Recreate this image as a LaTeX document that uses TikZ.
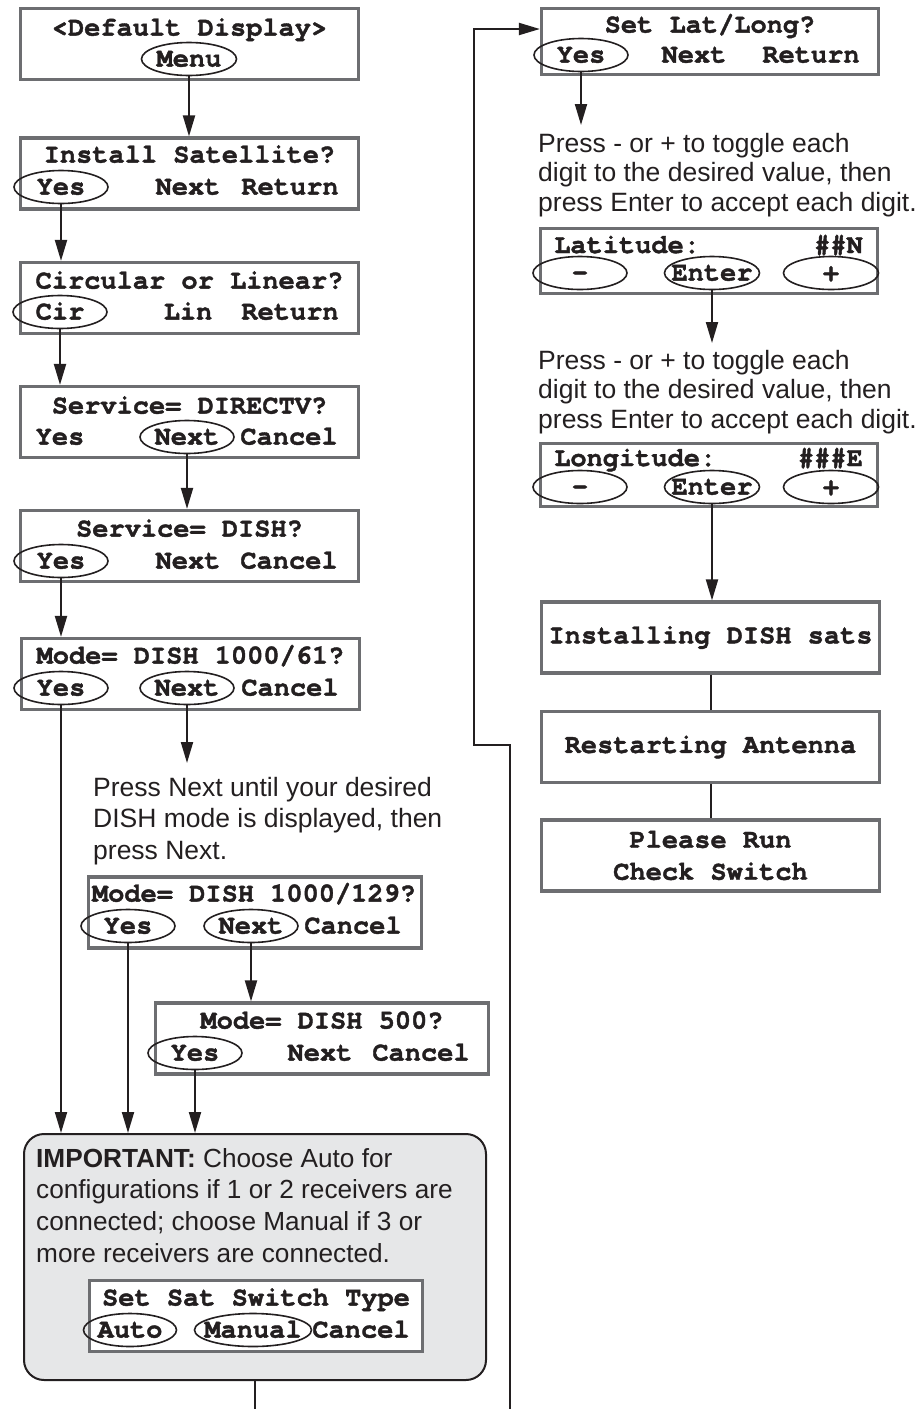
\documentclass[tikz,border=0pt]{standalone}
\usepackage{fontspec}
\setmainfont{Liberation Sans}
\setmonofont{texgyrecursor}[Extension=.otf,UprightFont=*-regular,BoldFont=*-bold,BoldFeatures={FakeBold=1.5}]
\usetikzlibrary{arrows.meta,shapes.geometric,calc}
\definecolor{lcdgray}{RGB}{109,110,113}
\definecolor{notegray}{RGB}{230,231,232}
\definecolor{ink}{RGB}{35,31,32}
\newcommand{\lcd}[1]{\makebox[0pt]{\raisebox{-.28em}[0pt][0pt]{#1}}}

\begin{document}
\begin{tikzpicture}[x=1pt,y=-1pt,ink,font=\fontsize{26.5}{29.5}\selectfont,
  lcdbox/.style={draw=lcdgray,line width=3.2pt,fill=white,minimum width=338pt,minimum height=71pt,inner sep=0pt,font=\fontsize{27}{32}\selectfont\ttfamily\bfseries},
  key/.style={inner sep=0pt,font=\fontsize{27}{32}\selectfont\ttfamily\bfseries},
  btn/.style={key,ellipse,draw=ink,line width=1.6pt,minimum width=94pt,minimum height=33pt},
  flow/.style={draw=ink,line width=2pt,-{Triangle[length=21pt,width=12pt]}},
  link/.style={draw=ink,line width=2pt},
  note/.style={anchor=north west,align=left,inner sep=0pt}]
  \useasboundingbox (0,0) rectangle (924,1409);

  % left column
  \node[lcdbox] (deflt) at (189.5,44) {};
  \node[key] (defltT) at (189.5,28) {\lcd{<Default Display>}};
  \node[btn,minimum width=95pt] (menu) at (189,59) {\lcd{Menu}};

  \node[lcdbox] (install) at (189.5,173.5) {};
  \node[key] (installT) at (189.5,155) {\lcd{Install Satellite?}};
  \node[btn] (installYes) at (61,187) {\lcd{Yes}};
  \node[key] (installNext) at (188,187) {\lcd{Next}};
  \node[key] (installRet) at (290,187) {\lcd{Return}};

  \node[lcdbox] (polar) at (189.5,298) {};
  \node[key] (polarT) at (189.5,281) {\lcd{Circular or Linear?}};
  \node[btn] (polarCir) at (60,312) {\lcd{Cir}};
  \node[key] (polarLin) at (188,312) {\lcd{Lin}};
  \node[key] (polarRet) at (290,312) {\lcd{Return}};

  \node[lcdbox] (tvsvc) at (189.5,422) {};
  \node[key] (tvsvcT) at (189.5,406) {\lcd{Service= DIRECTV?}};
  \node[key] (tvsvcYes) at (60,437) {\lcd{Yes}};
  \node[btn] (tvsvcNext) at (187,437) {\lcd{Next}};
  \node[key] (tvsvcCan) at (289,437) {\lcd{Cancel}};

  \node[lcdbox] (dish) at (189.5,546) {};
  \node[key] (dishT) at (189.5,529) {\lcd{Service= DISH?}};
  \node[btn] (dishYes) at (61,561) {\lcd{Yes}};
  \node[key] (dishNext) at (188,561) {\lcd{Next}};
  \node[key] (dishCan) at (289,561) {\lcd{Cancel}};

  \node[lcdbox] (m61) at (190.5,674) {};
  \node[key] (m61T) at (190.5,656) {\lcd{Mode= DISH 1000/61?}};
  \node[btn] (m61Yes) at (61,688) {\lcd{Yes}};
  \node[btn] (m61Next) at (187,688) {\lcd{Next}};
  \node[key] (m61Can) at (290,688) {\lcd{Cancel}};

  \node[note,font=\fontsize{26.5}{31.5}\selectfont] (modehint) at (93,777)
    {Press Next until your desired\\DISH mode is displayed, then\\press Next.};

  \node[lcdbox,minimum width=333pt] (m129) at (255,912.5) {};
  \node[key] (m129T) at (254,894) {\lcd{Mode= DISH 1000/129?}};
  \node[btn] (m129Yes) at (128,926) {\lcd{Yes}};
  \node[btn] (m129Next) at (251,926) {\lcd{Next}};
  \node[key] (m129Can) at (353,926) {\lcd{Cancel}};

  \node[lcdbox,minimum width=333pt] (m500) at (322,1038.5) {};
  \node[key] (m500T) at (322,1021) {\lcd{Mode= DISH 500?}};
  \node[btn] (m500Yes) at (195,1053) {\lcd{Yes}};
  \node[key] (m500Next) at (320,1053) {\lcd{Next}};
  \node[key] (m500Can) at (421,1053) {\lcd{Cancel}};

  \node[draw=ink,line width=2pt,fill=notegray,rounded corners=20pt,minimum width=462pt,minimum height=246pt] (important) at (255,1257) {};
  \node[note,font=\fontsize{26.2}{31.7}\selectfont] (impnote) at (36,1148)
    {\textbf{IMPORTANT:} Choose Auto for\\configurations if 1 or 2 receivers are\\connected; choose Manual if 3 or\\more receivers are connected.};
  \node[lcdbox,minimum width=333pt] (swtype) at (256,1316) {};
  \node[key] (swtypeT) at (256,1298) {\lcd{Set Sat Switch Type}};
  \node[btn,minimum width=93pt] (swAuto) at (130,1330) {\lcd{Auto}};
  \node[btn,minimum width=117pt] (swManual) at (253,1330) {\lcd{Manual}};
  \node[key] (swCan) at (361,1330) {\lcd{Cancel}};

  % right column
  \node[lcdbox,minimum width=337pt,minimum height=66pt] (latlong) at (710,41.5) {};
  \node[key] (latlongT) at (710,25) {\lcd{Set Lat/Long?}};
  \node[btn] (latlongYes) at (581,55) {\lcd{Yes}};
  \node[key] (latlongNext) at (694,55) {\lcd{Next}};
  \node[key] (latlongRet) at (811,55) {\lcd{Return}};

  \node[note] (hintA) at (538,133)
    {Press - or + to toggle each\\digit to the desired value, then\\press Enter to accept each digit.};

  \node[lcdbox,minimum width=337pt,minimum height=65pt] (lat) at (709,261) {};
  \node[key,anchor=base west] (latT) at (554,253) {Latitude:};
  \node[key,anchor=base east] (latV) at (863,253) {\#\#N};
  \node[btn] (latMinus) at (580,273) {\lcd{-}};
  \node[btn,minimum width=95pt] (latEnter) at (712,273) {\lcd{Enter}};
  \node[btn,minimum width=95pt] (latPlus) at (831,273) {\lcd{+}};

  \node[note] (hintB) at (538,350)
    {Press - or + to toggle each\\digit to the desired value, then\\press Enter to accept each digit.};

  \node[lcdbox,minimum width=337pt,minimum height=63pt] (lon) at (709,475) {};
  \node[key,anchor=base west] (lonT) at (554,466) {Longitude:};
  \node[key,anchor=base east] (lonV) at (863,466) {\#\#\#E};
  \node[btn] (lonMinus) at (580,487) {\lcd{-}};
  \node[btn,minimum width=95pt] (lonEnter) at (712,487) {\lcd{Enter}};
  \node[btn,minimum width=95pt] (lonPlus) at (831,487) {\lcd{+}};

  \node[lcdbox] (installing) at (710.5,637.5) {Installing DISH sats};
  \node[lcdbox] (restart) at (710.5,747) {\raisebox{5pt}{Restarting Antenna}};
  \node[lcdbox,align=center] (runcheck) at (710.5,855.5) {Please Run\\Check Switch};

  % connectors
  \draw[flow] (menu.south) -- (menu.south |- install.north);
  \draw[flow] (installYes.south) -- (installYes.south |- polar.north);
  \draw[flow] (polarCir.south) -- (polarCir.south |- tvsvc.north);
  \draw[flow] (tvsvcNext.south) -- (tvsvcNext.south |- dish.north);
  \draw[flow] (dishYes.south) -- (dishYes.south |- m61.north);
  \draw[flow] (m61Yes.south) -- (m61Yes.south |- important.north);
  \draw[flow] (m61Next.south) -- ([yshift=14pt]m61Next.south |- modehint.north);
  \draw[flow] (m129Yes.south) -- (m129Yes.south |- important.north);
  \draw[flow] (m129Next.south) -- (m129Next.south |- m500.north);
  \draw[flow] (m500Yes.south) -- (m500Yes.south |- important.north);
  \coordinate (impout) at (255,1409);
  \draw[link] (important.south) -- (impout);
  \coordinate (loopout) at (510,1409);
  \draw[flow] (loopout) |- (474,745) |- ([yshift=12.5pt]latlong.west);

  \draw[flow] (latlongYes.south) -- ([yshift=8pt]latlongYes.south |- hintA.north);
  \draw[flow] (latEnter.south) -- ([yshift=7pt]latEnter.south |- hintB.north);
  \draw[flow] (lonEnter.south) -- (lonEnter.south |- installing.north);
  \draw[link] (installing.south) -- (restart.north);
  \draw[link] (restart.south) -- (runcheck.north);
\end{tikzpicture}
\end{document}
